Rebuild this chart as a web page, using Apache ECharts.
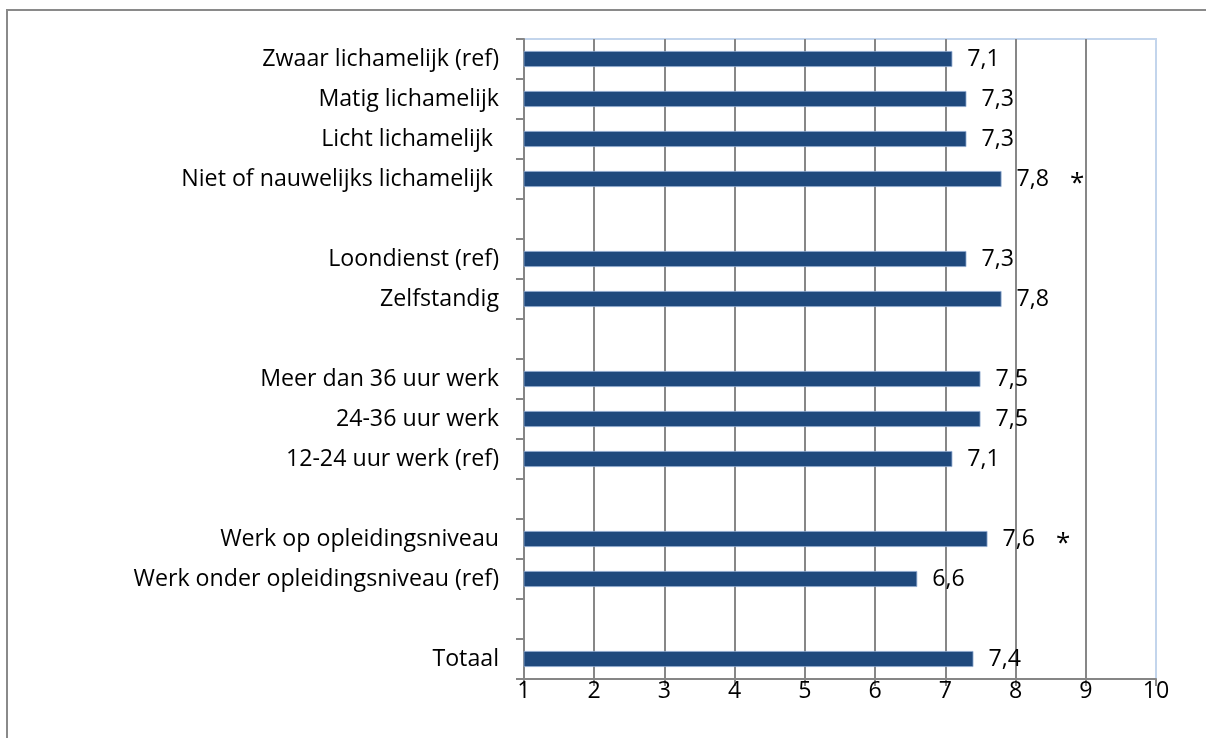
<!DOCTYPE html>
<html>
<head>
<meta charset="utf-8">
<script src="https://cdn.jsdelivr.net/npm/echarts@6/dist/echarts.min.js"></script>
<style>
html,body{margin:0;padding:0;background:#fff;}
#chart{width:1206px;height:738px;}
</style>
</head>
<body>
<div id="chart"></div>
<script>
// Categories top to bottom (blank strings are the spacer rows)
const categories = [
  'Zwaar lichamelijk (ref)',
  'Matig lichamelijk',
  'Licht lichamelijk ',
  'Niet of nauwelijks lichamelijk ',
  ' ',
  'Loondienst (ref)',
  'Zelfstandig',
  '  ',
  'Meer dan 36 uur werk',
  '24-36 uur werk',
  '12-24 uur werk (ref)',
  '   ',
  'Werk op opleidingsniveau',
  'Werk onder opleidingsniveau (ref)',
  '    ',
  'Totaal'
];
const values = [7.1, 7.3, 7.3, 7.8, null, 7.3, 7.8, null, 7.5, 7.5, 7.1, null, 7.6, 6.6, null, 7.4];
const significant = ['', '', '', '*', '', '', '', '', '', '', '', '', '*', '', '', ''];
const xTicks = [1, 2, 3, 4, 5, 6, 7, 8, 9, 10];

const FONT = 'Open Sans';
const FS = 23.2;
const chart = echarts.init(document.getElementById('chart'), null, {renderer: 'canvas'});
chart.setOption({
  animation: false,
  backgroundColor: '#ffffff',
  textStyle: {fontFamily: FONT},
  graphic: [{
    type: 'rect',
    shape: {x: 7, y: 10, width: 1400, height: 900},
    style: {fill: 'none', stroke: '#8a8a8a', lineWidth: 2},
    silent: true,
    z: -10
  }],
  grid: {
    left: 524, right: 50, top: 39, bottom: 59,
    show: true,
    borderColor: '#c3d5ec',
    borderWidth: 2,
    backgroundColor: 'transparent'
  },
  xAxis: {
    type: 'value',
    min: xTicks[0],
    max: xTicks[xTicks.length - 1],
    interval: 1,
    axisLine: {show: true, lineStyle: {color: '#868686', width: 2}},
    axisTick: {show: true, length: 7, lineStyle: {color: '#868686', width: 2}},
    axisLabel: {
      color: '#000', fontSize: FS, fontFamily: FONT, margin: 1,
      formatter: v => String(v)
    },
    splitLine: {show: true, showMinLine: false, showMaxLine: false, lineStyle: {color: '#878787', width: 2}}
  },
  yAxis: {
    type: 'category',
    data: categories,
    inverse: true,
    axisLine: {show: true, lineStyle: {color: '#868686', width: 2}},
    axisTick: {show: true, length: 8, lineStyle: {color: '#868686', width: 2}},
    axisLabel: {color: '#000', fontSize: FS, fontFamily: FONT, margin: 25},
    splitLine: {show: false}
  },
  series: [{
    type: 'bar',
    data: values,
    barWidth: 16,
    itemStyle: {color: '#1f497d', borderColor: '#8eaad0', borderWidth: 0.8},
    label: {
      show: true,
      position: 'right',
      distance: 15,
      color: '#000',
      fontSize: FS,
      fontFamily: FONT,
      formatter: p => {
        const txt = String(p.value).replace('.', ',');
        const s = significant[p.dataIndex];
        return s ? txt + '{s|' + s + '}' : txt;
      },
      rich: {s: {fontSize: 26, fontFamily: FONT, color: '#000', padding: [9, 0, 0, 21]}}
    }
  }]
});
</script>
</body>
</html>
